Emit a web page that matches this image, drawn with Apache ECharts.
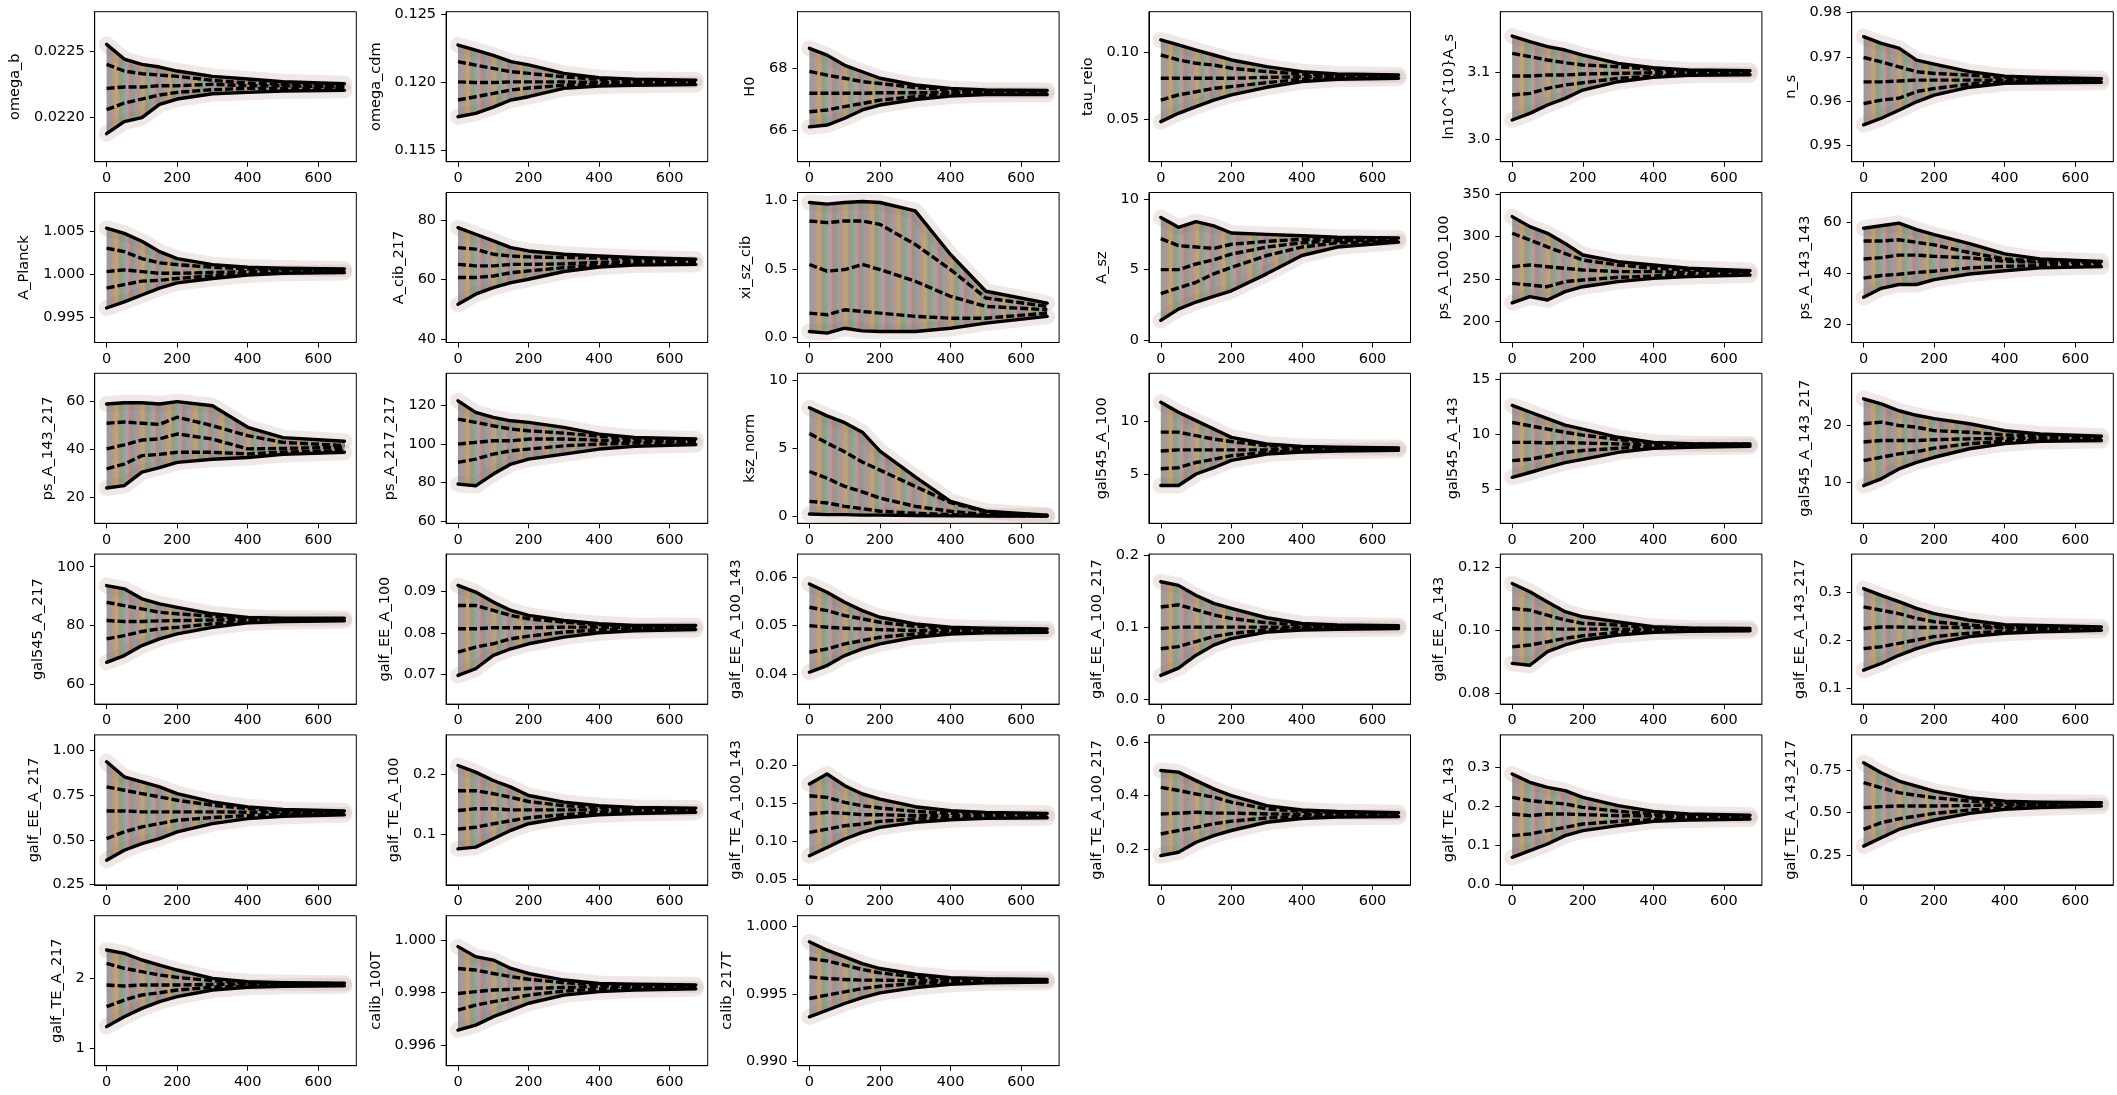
<!DOCTYPE html>
<html>
<head>
<meta charset="utf-8">
<script src="https://cdn.jsdelivr.net/npm/echarts@6/dist/echarts.min.js"></script>
<style>
  html, body { margin: 0; padding: 0; background: #ffffff; }
  #chart { width: 2117px; height: 1095px; }
</style>
</head>
<body>
<div id="chart"></div>
<script>
// MCMC chain trace summary: per-step quantiles of the walker ensemble for each parameter.

const PARAMS = [
  "omega_b", "omega_cdm", "H0", "tau_reio", "ln10^{10}A_s", "n_s",
  "A_Planck", "A_cib_217", "xi_sz_cib", "A_sz", "ps_A_100_100", "ps_A_143_143",
  "ps_A_143_217", "ps_A_217_217", "ksz_norm", "gal545_A_100", "gal545_A_143", "gal545_A_143_217",
  "gal545_A_217", "galf_EE_A_100", "galf_EE_A_100_143", "galf_EE_A_100_217", "galf_EE_A_143", "galf_EE_A_143_217",
  "galf_EE_A_217", "galf_TE_A_100", "galf_TE_A_100_143", "galf_TE_A_100_217", "galf_TE_A_143", "galf_TE_A_143_217",
  "galf_TE_A_217", "calib_100T", "calib_217T"
];

// chain steps at which the quantiles are listed
const STEPS = [0, 50, 100, 150, 200, 300, 400, 500, 674];
const X_LIMITS = [-33.7, 707.7];
const X_TICKS = ["0", "200", "400", "600"];

const Y_LIMITS = [
  [0.02167, 0.022795], [0.11419, 0.12520], [64.97, 69.84], [0.0184, 0.1303], [2.9665, 3.1915], [0.94639, 0.98023],
  [0.99212, 1.00942], [38.9, 89.2], [-0.036, 1.056], [-0.17, 10.47], [175.3, 352], [12.8, 71.5],
  [9.3, 71.8], [58.8, 136.8], [-0.52, 10.54], [0.29, 14.62], [1.88, 15.52], [2.76, 29.2],
  [53.3, 104.3], [0.06288, 0.09888], [0.03392, 0.06464], [-0.0069, 0.2014], [0.07663, 0.1240], [0.0674, 0.3799],
  [0.248, 1.0877], [0.015, 0.265], [0.0421, 0.2406], [0.065, 0.6275], [-0.001, 0.3827], [0.0721, 0.9615],
  [0.752, 2.895], [0.995228, 1.000924], [0.9897, 1.000815]
];

const Y_TICKS = [
  ["0.0220", "0.0225"], ["0.115", "0.120", "0.125"], ["66", "68"], ["0.05", "0.10"], ["3.0", "3.1"], ["0.95", "0.96", "0.97", "0.98"],
  ["0.995", "1.000", "1.005"], ["40", "60", "80"], ["0.0", "0.5", "1.0"], ["0", "5", "10"], ["200", "250", "300", "350"], ["20", "40", "60"],
  ["20", "40", "60"], ["60", "80", "100", "120"], ["0", "5", "10"], ["5", "10"], ["5", "10", "15"], ["10", "20"],
  ["60", "80", "100"], ["0.07", "0.08", "0.09"], ["0.04", "0.05", "0.06"], ["0.0", "0.1", "0.2"], ["0.08", "0.10", "0.12"], ["0.1", "0.2", "0.3"],
  ["0.25", "0.50", "0.75", "1.00"], ["0.1", "0.2"], ["0.05", "0.10", "0.15", "0.20"], ["0.2", "0.4", "0.6"], ["0.0", "0.1", "0.2", "0.3"], ["0.25", "0.50", "0.75"],
  ["1", "2"], ["0.996", "0.998", "1.000"], ["0.990", "0.995", "1.000"]
];

// upper outer quantile (solid)
const Q_HI95 = [
  [0.02255, 0.02244, 0.02240, 0.02238, 0.02235, 0.02231, 0.02229, 0.02227, 0.022255],
  [0.12275, 0.12238, 0.12200, 0.12153, 0.12130, 0.12067, 0.12035, 0.12025, 0.12018],
  [68.65, 68.43, 68.10, 67.89, 67.68, 67.46, 67.35, 67.30, 67.28],
  [0.1092, 0.1055, 0.1017, 0.0980, 0.0943, 0.0893, 0.0856, 0.0838, 0.0831],
  [3.155, 3.1465, 3.139, 3.134, 3.1265, 3.114, 3.1075, 3.104, 3.103],
  [0.9746, 0.9731, 0.9720, 0.9693, 0.9684, 0.9667, 0.9657, 0.9654, 0.9651],
  [1.0053, 1.0047, 1.0038, 1.0026, 1.0018, 1.0011, 1.0008, 1.0007, 1.0006],
  [77.4, 75.2, 73.0, 70.7, 69.6, 68.5, 67.9, 67.4, 66.8],
  [0.983, 0.971, 0.983, 0.990, 0.983, 0.922, 0.605, 0.337, 0.251],
  [8.7, 8.0, 8.4, 8.1, 7.6, 7.5, 7.4, 7.3, 7.25],
  [323.6, 311.8, 303.9, 292.0, 278.4, 270.5, 266.6, 262.7, 260.0],
  [57.5, 58.5, 59.5, 57.0, 55.0, 51.5, 47.5, 45.5, 44.5],
  [59.0, 59.5, 59.5, 59.0, 60.0, 58.3, 49.3, 45.0, 43.5],
  [122.5, 116.5, 113.9, 112.1, 111.3, 108.7, 105.2, 103.5, 102.6],
  [8.0, 7.4, 6.9, 6.2, 4.8, 2.9, 1.1, 0.37, 0.07],
  [11.85, 10.9, 10.1, 9.3, 8.5, 7.87, 7.64, 7.55, 7.5],
  [12.6, 12.0, 11.4, 10.8, 10.45, 9.7, 9.24, 9.12, 9.1],
  [24.7, 23.8, 22.6, 21.8, 21.2, 20.3, 19.1, 18.5, 18.1],
  [93.6, 92.5, 89.1, 87.4, 86.2, 84.0, 82.8, 82.5, 82.5],
  [0.09136, 0.08976, 0.08736, 0.08536, 0.08416, 0.08296, 0.08216, 0.08176, 0.08176],
  [0.05853, 0.05683, 0.05478, 0.05307, 0.05171, 0.05034, 0.04966, 0.04945, 0.04932],
  [0.163, 0.158, 0.144, 0.133, 0.126, 0.113, 0.105, 0.103, 0.102],
  [0.1147, 0.1121, 0.1089, 0.1058, 0.1042, 0.1026, 0.1011, 0.1007, 0.1005],
  [0.308, 0.294, 0.281, 0.267, 0.256, 0.242, 0.233, 0.231, 0.228],
  [0.937, 0.853, 0.825, 0.797, 0.759, 0.713, 0.685, 0.670, 0.662],
  [0.214, 0.203, 0.189, 0.178, 0.164, 0.153, 0.147, 0.144, 0.143],
  [0.1756, 0.1888, 0.1734, 0.1624, 0.1557, 0.1456, 0.1403, 0.1381, 0.1368],
  [0.494, 0.488, 0.456, 0.425, 0.400, 0.3625, 0.346, 0.340, 0.336],
  [0.2827, 0.2614, 0.2486, 0.2400, 0.2230, 0.2017, 0.1872, 0.1804, 0.1770],
  [0.796, 0.737, 0.688, 0.658, 0.628, 0.589, 0.569, 0.563, 0.559],
  [2.405, 2.357, 2.262, 2.190, 2.119, 2.000, 1.952, 1.938, 1.929],
  [0.99975, 0.99937, 0.99924, 0.99892, 0.99873, 0.99848, 0.99835, 0.99832, 0.99829],
  [0.99888, 0.99826, 0.99777, 0.99727, 0.99690, 0.99648, 0.99623, 0.99614, 0.99609]
];

// upper inner quantile (dashed)
const Q_HI68 = [
  [0.02240, 0.02235, 0.02233, 0.02232, 0.02231, 0.02228, 0.02226, 0.02225, 0.022242],
  [0.12153, 0.12128, 0.12104, 0.12080, 0.12067, 0.12042, 0.12022, 0.12015, 0.12010],
  [67.90, 67.78, 67.68, 67.57, 67.51, 67.38, 67.30, 67.26, 67.24],
  [0.0980, 0.0943, 0.0918, 0.0905, 0.0881, 0.0856, 0.0838, 0.0828, 0.0823],
  [3.129, 3.124, 3.119, 3.115, 3.1115, 3.109, 3.105, 3.1025, 3.1015],
  [0.9699, 0.9689, 0.9678, 0.9667, 0.9663, 0.9659, 0.9654, 0.9651, 0.9650],
  [1.0030, 1.0026, 1.0018, 1.0013, 1.0011, 1.0008, 1.0006, 1.0006, 1.0005],
  [70.7, 70.2, 68.5, 67.9, 67.6, 67.4, 67.2, 66.8, 66.5],
  [0.849, 0.837, 0.849, 0.849, 0.824, 0.678, 0.495, 0.288, 0.227],
  [7.2, 6.7, 6.6, 6.5, 6.8, 7.0, 7.15, 7.15, 7.15],
  [304.0, 296.0, 288.0, 280.0, 272.5, 266.6, 262.7, 260.7, 258.8],
  [52.5, 52.5, 53.0, 52.0, 51.0, 48.0, 45.5, 44.5, 44.0],
  [51.0, 51.5, 51.0, 50.5, 53.5, 50.0, 45.8, 43.0, 41.7],
  [113.0, 111.3, 109.5, 107.8, 106.9, 105.7, 104.0, 102.9, 102.3],
  [6.1, 5.4, 4.75, 4.0, 3.4, 2.2, 1.0, 0.33, 0.05],
  [9.0, 9.0, 8.66, 8.34, 8.1, 7.7, 7.55, 7.48, 7.45],
  [11.05, 10.75, 10.45, 10.15, 9.9, 9.5, 9.18, 9.1, 9.06],
  [20.3, 20.6, 20.0, 19.7, 19.1, 18.8, 18.35, 18.1, 17.9],
  [87.9, 86.8, 85.7, 84.5, 84.0, 83.2, 82.5, 82.3, 82.3],
  [0.08656, 0.08656, 0.08536, 0.08416, 0.08336, 0.08256, 0.08192, 0.0816, 0.08152],
  [0.05375, 0.05307, 0.05205, 0.05137, 0.05068, 0.04986, 0.04945, 0.04932, 0.04918],
  [0.128, 0.131, 0.124, 0.117, 0.112, 0.106, 0.103, 0.102, 0.101],
  [0.1068, 0.1063, 0.1047, 0.1032, 0.1021, 0.1016, 0.1007, 0.1005, 0.1004],
  [0.270, 0.263, 0.256, 0.246, 0.239, 0.232, 0.228, 0.227, 0.226],
  [0.797, 0.778, 0.759, 0.741, 0.722, 0.694, 0.675, 0.662, 0.657],
  [0.172, 0.172, 0.167, 0.161, 0.154, 0.147, 0.144, 0.142, 0.142],
  [0.1601, 0.1579, 0.1513, 0.1469, 0.1438, 0.1394, 0.1368, 0.1359, 0.1350],
  [0.431, 0.419, 0.406, 0.394, 0.375, 0.350, 0.341, 0.336, 0.334],
  [0.2230, 0.2145, 0.2102, 0.2060, 0.1974, 0.1872, 0.1804, 0.1770, 0.1753],
  [0.678, 0.648, 0.619, 0.603, 0.589, 0.569, 0.559, 0.555, 0.553],
  [2.214, 2.143, 2.095, 2.048, 2.014, 1.967, 1.938, 1.929, 1.924],
  [0.99892, 0.99886, 0.99873, 0.99861, 0.99851, 0.99838, 0.99830, 0.99828, 0.99827],
  [0.99764, 0.99747, 0.99715, 0.99683, 0.99658, 0.99628, 0.99614, 0.99609, 0.99604]
];

// median (dashed)
const Q_MED = [
  [0.02222, 0.02223, 0.02223, 0.02224, 0.02224, 0.02225, 0.02224, 0.02224, 0.02223],
  [0.12005, 0.12000, 0.12000, 0.12005, 0.12005, 0.12005, 0.12000, 0.12000, 0.12000],
  [67.19, 67.19, 67.19, 67.19, 67.21, 67.21, 67.21, 67.22, 67.21],
  [0.0806, 0.0806, 0.0806, 0.0806, 0.0806, 0.0813, 0.0818, 0.0818, 0.0818],
  [3.095, 3.095, 3.0965, 3.0965, 3.098, 3.099, 3.100, 3.100, 3.100],
  [0.9644, 0.9644, 0.9646, 0.9648, 0.9648, 0.9648, 0.9648, 0.9648, 0.9647],
  [1.0003, 1.0005, 1.0003, 1.0001, 1.0001, 1.0002, 1.0003, 1.0004, 1.0004],
  [65.1, 64.6, 64.6, 65.1, 65.1, 65.3, 65.8, 66.0, 66.0],
  [0.532, 0.483, 0.495, 0.532, 0.495, 0.410, 0.300, 0.227, 0.202],
  [5.0, 5.0, 5.4, 5.7, 6.1, 6.6, 6.9, 7.05, 7.1],
  [264.6, 266.6, 264.6, 262.7, 260.7, 258.8, 258.8, 257.6, 257.6],
  [45.5, 46.0, 47.0, 47.0, 46.5, 45.9, 44.6, 44.2, 43.8],
  [40.3, 42.0, 44.0, 44.5, 46.5, 44.4, 40.3, 40.5, 41.0],
  [100.0, 100.9, 101.7, 101.7, 102.6, 102.6, 102.0, 101.7, 101.4],
  [3.3, 2.8, 2.2, 1.8, 1.34, 0.73, 0.37, 0.12, 0.03],
  [7.2, 7.3, 7.3, 7.3, 7.3, 7.3, 7.4, 7.4, 7.4],
  [9.24, 9.24, 9.18, 9.24, 9.18, 9.1, 9.0, 9.0, 9.0],
  [17.1, 17.35, 17.35, 17.35, 17.5, 17.65, 17.75, 17.75, 17.75],
  [81.7, 81.4, 81.4, 81.6, 81.7, 81.9, 82.0, 82.0, 82.0],
  [0.08096, 0.08096, 0.0812, 0.0812, 0.0812, 0.08136, 0.08136, 0.08128, 0.08128],
  [0.05000, 0.04966, 0.04945, 0.04932, 0.04918, 0.04898, 0.04898, 0.04898, 0.04898],
  [0.098, 0.100, 0.100, 0.100, 0.100, 0.100, 0.100, 0.100, 0.100],
  [0.1005, 0.1003, 0.1005, 0.1003, 0.1003, 0.1003, 0.1002, 0.1002, 0.1002],
  [0.225, 0.228, 0.228, 0.227, 0.227, 0.227, 0.226, 0.225, 0.225],
  [0.662, 0.662, 0.657, 0.657, 0.657, 0.657, 0.655, 0.653, 0.651],
  [0.139, 0.142, 0.142, 0.140, 0.140, 0.140, 0.140, 0.139, 0.139],
  [0.1359, 0.1381, 0.1368, 0.1350, 0.1350, 0.1337, 0.1337, 0.1332, 0.1332],
  [0.331, 0.334, 0.3375, 0.334, 0.334, 0.331, 0.330, 0.329, 0.329],
  [0.1804, 0.1761, 0.1804, 0.1804, 0.1787, 0.1761, 0.1753, 0.1736, 0.1719],
  [0.530, 0.536, 0.540, 0.540, 0.540, 0.543, 0.547, 0.547, 0.549],
  [1.905, 1.890, 1.905, 1.905, 1.905, 1.914, 1.919, 1.919, 1.919],
  [0.99797, 0.99804, 0.99810, 0.99813, 0.99816, 0.99820, 0.99823, 0.99823, 0.99823],
  [0.99628, 0.99616, 0.99609, 0.99604, 0.99604, 0.99599, 0.99599, 0.99599, 0.99599]
];

// lower inner quantile (dashed)
const Q_LO68 = [
  [0.02206, 0.02211, 0.02214, 0.02217, 0.02219, 0.02221, 0.02222, 0.02222, 0.02222],
  [0.11872, 0.11896, 0.11920, 0.11945, 0.11960, 0.11980, 0.11988, 0.11990, 0.11992],
  [66.59, 66.65, 66.76, 66.86, 66.97, 67.08, 67.16, 67.19, 67.18],
  [0.0644, 0.0682, 0.0706, 0.0731, 0.0744, 0.0774, 0.0799, 0.0808, 0.0813],
  [3.0665, 3.069, 3.0765, 3.0815, 3.085, 3.0915, 3.095, 3.098, 3.0985],
  [0.9595, 0.9603, 0.9607, 0.9622, 0.9629, 0.9639, 0.9644, 0.9645, 0.9644],
  [0.9984, 0.9988, 0.9992, 0.9993, 0.9995, 0.9998, 1.0001, 1.0002, 1.0003],
  [60.7, 60.7, 61.2, 62.3, 62.9, 64.0, 64.9, 65.4, 65.6],
  [0.178, 0.166, 0.202, 0.190, 0.178, 0.154, 0.141, 0.141, 0.178],
  [3.3, 3.7, 4.1, 4.7, 5.15, 6.0, 6.6, 6.9, 7.0],
  [245.0, 243.0, 241.0, 247.0, 249.0, 252.0, 253.6, 254.8, 256.0],
  [38.0, 39.0, 39.5, 40.2, 40.7, 42.0, 42.6, 42.9, 43.1],
  [32.0, 34.0, 37.5, 38.0, 38.9, 38.9, 38.2, 39.0, 39.6],
  [90.5, 92.2, 94.8, 96.5, 97.4, 99.1, 100.0, 100.5, 100.9],
  [1.1, 0.98, 0.73, 0.56, 0.37, 0.22, 0.12, 0.05, 0.02],
  [5.5, 5.6, 6.1, 6.4, 6.75, 7.07, 7.2, 7.28, 7.3],
  [7.58, 7.7, 8.0, 8.33, 8.5, 8.7, 8.88, 8.94, 8.94],
  [13.8, 14.4, 15.0, 15.4, 16.0, 16.8, 17.2, 17.4, 17.5],
  [75.5, 76.6, 78.0, 78.9, 79.4, 80.6, 81.4, 81.7, 81.8],
  [0.07536, 0.07656, 0.07736, 0.07856, 0.0792, 0.08016, 0.08072, 0.08096, 0.08104],
  [0.04454, 0.04522, 0.04625, 0.04693, 0.04761, 0.04829, 0.04863, 0.04877, 0.04877],
  [0.070, 0.073, 0.080, 0.087, 0.091, 0.096, 0.098, 0.099, 0.099],
  [0.0947, 0.0953, 0.0963, 0.0974, 0.0982, 0.0993, 0.0997, 0.0999, 0.1000],
  [0.183, 0.187, 0.194, 0.201, 0.208, 0.215, 0.219, 0.222, 0.223],
  [0.507, 0.545, 0.573, 0.591, 0.610, 0.625, 0.636, 0.642, 0.646],
  [0.108, 0.111, 0.117, 0.122, 0.127, 0.132, 0.136, 0.137, 0.137],
  [0.1116, 0.1160, 0.1204, 0.1226, 0.1262, 0.1293, 0.1306, 0.1315, 0.1319],
  [0.256, 0.269, 0.281, 0.294, 0.304, 0.316, 0.321, 0.324, 0.325],
  [0.1250, 0.1292, 0.1378, 0.1463, 0.1548, 0.1616, 0.1659, 0.1684, 0.1693],
  [0.401, 0.441, 0.464, 0.480, 0.496, 0.516, 0.530, 0.540, 0.543],
  [1.595, 1.690, 1.762, 1.795, 1.833, 1.871, 1.890, 1.900, 1.905],
  [0.99734, 0.99753, 0.99766, 0.99778, 0.99791, 0.99806, 0.99814, 0.99818, 0.99819],
  [0.99468, 0.99493, 0.99517, 0.99542, 0.99559, 0.99579, 0.99589, 0.99592, 0.99594]
];

// lower outer quantile (solid)
const Q_LO95 = [
  [0.02188, 0.02197, 0.02200, 0.02210, 0.02214, 0.02218, 0.02219, 0.02220, 0.022205],
  [0.11749, 0.11774, 0.11820, 0.11872, 0.11896, 0.11957, 0.11974, 0.11980, 0.11985],
  [66.10, 66.16, 66.38, 66.65, 66.81, 66.99, 67.10, 67.15, 67.15],
  [0.0483, 0.0545, 0.0595, 0.0644, 0.0682, 0.0739, 0.0781, 0.0799, 0.0806],
  [3.029, 3.039, 3.0515, 3.0615, 3.074, 3.0865, 3.093, 3.096, 3.097],
  [0.9547, 0.9562, 0.9580, 0.9599, 0.9614, 0.9632, 0.9641, 0.9642, 0.9643],
  [0.9961, 0.9968, 0.9976, 0.9984, 0.9990, 0.9995, 0.9999, 1.0001, 1.0002],
  [51.7, 55.1, 57.3, 59.0, 60.1, 62.7, 64.2, 64.9, 65.1],
  [0.044, 0.032, 0.068, 0.049, 0.044, 0.044, 0.068, 0.105, 0.154],
  [1.4, 2.2, 2.7, 3.1, 3.5, 4.7, 6.0, 6.6, 6.95],
  [222.0, 229.3, 225.4, 235.2, 241.0, 247.0, 250.9, 252.9, 254.8],
  [30.5, 34.0, 35.5, 35.5, 37.4, 39.6, 40.9, 42.0, 42.5],
  [24.0, 25.0, 30.6, 32.5, 34.7, 36.0, 36.7, 38.0, 38.9],
  [79.2, 78.3, 84.4, 89.6, 92.2, 94.8, 97.4, 98.8, 99.8],
  [0.17, 0.12, 0.12, 0.08, 0.08, 0.05, 0.03, 0.02, 0.01],
  [3.9, 3.9, 5.0, 5.6, 6.3, 6.9, 7.1, 7.2, 7.26],
  [6.06, 6.5, 6.97, 7.4, 7.7, 8.33, 8.7, 8.8, 8.88],
  [9.4, 10.6, 12.35, 13.5, 14.4, 15.9, 16.8, 17.2, 17.35],
  [67.5, 69.8, 73.2, 75.5, 77.2, 79.4, 80.9, 81.4, 81.6],
  [0.06976, 0.07136, 0.07456, 0.07616, 0.07736, 0.07896, 0.08, 0.08048, 0.0808],
  [0.04044, 0.04181, 0.04386, 0.04522, 0.04625, 0.04761, 0.04829, 0.0485, 0.04863],
  [0.033, 0.043, 0.061, 0.075, 0.084, 0.093, 0.096, 0.097, 0.098],
  [0.0895, 0.0889, 0.0932, 0.0953, 0.0968, 0.0984, 0.0993, 0.0996, 0.0998],
  [0.138, 0.152, 0.169, 0.183, 0.194, 0.208, 0.215, 0.218, 0.221],
  [0.386, 0.442, 0.479, 0.507, 0.545, 0.591, 0.619, 0.632, 0.640],
  [0.075, 0.078, 0.092, 0.106, 0.117, 0.127, 0.132, 0.134, 0.136],
  [0.0807, 0.0917, 0.1028, 0.1116, 0.1182, 0.1248, 0.1284, 0.1301, 0.1310],
  [0.175, 0.1875, 0.225, 0.250, 0.269, 0.300, 0.314, 0.319, 0.321],
  [0.0696, 0.0866, 0.1037, 0.1250, 0.1378, 0.1506, 0.1616, 0.1650, 0.1676],
  [0.302, 0.352, 0.401, 0.431, 0.457, 0.496, 0.520, 0.530, 0.540],
  [1.310, 1.452, 1.571, 1.667, 1.738, 1.833, 1.871, 1.886, 1.895],
  [0.99658, 0.99677, 0.99709, 0.99734, 0.99760, 0.99791, 0.99804, 0.99810, 0.99815],
  [0.99332, 0.99381, 0.99431, 0.99475, 0.99510, 0.99549, 0.99574, 0.99584, 0.99589]
];

// ---- layout and styling ----
const COLS = 6;
const PANEL = { left0: 94.7, dx: 351.4, top0: 11.7, dy: 180.8, width: 261.6, height: 150 };
const FONT = '"DejaVu Sans", "Liberation Sans", sans-serif';
const FONT_SIZE = 14.5;
const TAB10 = [
  [31, 119, 180], [255, 127, 14], [44, 160, 44], [214, 39, 40], [148, 103, 189],
  [140, 86, 75], [227, 119, 194], [127, 127, 127], [188, 189, 34], [23, 190, 207]
];

// walker cloud fill: tinted vertical streaks over a muted brown-grey base
function cloudFill(alpha) {
  const base = [132, 112, 92];
  const stops = [];
  const n = 90;
  for (let k = 0; k <= n; k++) {
    const c = TAB10[(k * 7) % 10];
    const r = Math.round(base[0] * 0.68 + c[0] * 0.32);
    const g = Math.round(base[1] * 0.68 + c[1] * 0.32);
    const b = Math.round(base[2] * 0.68 + c[2] * 0.32);
    stops.push({ offset: k / n, color: `rgba(${r},${g},${b},${alpha})` });
  }
  return new echarts.graphic.LinearGradient(0, 0, 1, 0, stops);
}

const measureCtx = document.createElement('canvas').getContext('2d');
measureCtx.font = `${FONT_SIZE}px ${FONT}`;

const chart = echarts.init(document.getElementById('chart'), null, { renderer: 'canvas' });

const grids = [], xAxes = [], yAxes = [], series = [];

PARAMS.forEach((name, i) => {
  const col = i % COLS, row = Math.floor(i / COLS);
  grids.push({
    left: PANEL.left0 + PANEL.dx * col,
    top: PANEL.top0 + PANEL.dy * row,
    width: PANEL.width,
    height: PANEL.height,
    show: true,
    borderColor: '#000',
    borderWidth: 1,
    backgroundColor: 'transparent',
    containLabel: false
  });

  const xTickVals = X_TICKS.map(Number);
  xAxes.push({
    gridIndex: i,
    type: 'value',
    min: X_LIMITS[0],
    max: X_LIMITS[1],
    axisLine: { show: true, onZero: false, lineStyle: { color: '#000', width: 1 } },
    axisTick: { show: true, length: 5, lineStyle: { color: '#000', width: 1 }, customValues: xTickVals },
    axisLabel: {
      customValues: xTickVals,
      margin: 9,
      fontSize: FONT_SIZE,
      fontFamily: FONT,
      color: '#000',
      formatter: v => String(Math.round(v))
    },
    splitLine: { show: false }
  });

  const labels = Y_TICKS[i];
  const yTickVals = labels.map(Number);
  const labelW = Math.max(...labels.map(s => measureCtx.measureText(s).width));
  yAxes.push({
    gridIndex: i,
    type: 'value',
    min: Y_LIMITS[i][0],
    max: Y_LIMITS[i][1],
    name: name,
    nameLocation: 'middle',
    nameGap: 10 + labelW + 11,
    nameTextStyle: { fontSize: FONT_SIZE, fontFamily: FONT, color: '#000' },
    axisLine: { show: true, onZero: false, lineStyle: { color: '#000', width: 1 } },
    axisTick: { show: true, length: 5, lineStyle: { color: '#000', width: 1 }, customValues: yTickVals },
    axisLabel: {
      customValues: yTickVals,
      margin: 10,
      fontSize: FONT_SIZE,
      fontFamily: FONT,
      color: '#000',
      formatter: v => {
        let best = labels[0], d = Infinity;
        labels.forEach(s => { const dd = Math.abs(Number(s) - v); if (dd < d) { d = dd; best = s; } });
        return best;
      }
    },
    splitLine: { show: false }
  });

  const pts = arr => STEPS.map((x, k) => [x, arr[i][k]]);
  const common = { xAxisIndex: i, yAxisIndex: i, type: 'line', symbol: 'none', silent: true, animation: false };

  // faint halo of the outer walkers
  [Q_HI95, Q_LO95].forEach(q => {
    series.push(Object.assign({}, common, {
      data: pts(q),
      lineStyle: { color: 'rgba(190,160,150,0.24)', width: 16, join: 'round', cap: 'round' },
      z: 1
    }));
  });

  // filled walker band between the outer quantiles, drawn as one polygon
  series.push({
    type: 'custom',
    xAxisIndex: i,
    yAxisIndex: i,
    silent: true,
    animation: false,
    clip: true,
    z: 2,
    data: [[0]],
    renderItem: (params, api) => {
      const upper = STEPS.map((x, k) => api.coord([x, Q_HI95[i][k]]));
      const lower = STEPS.map((x, k) => api.coord([x, Q_LO95[i][k]])).reverse();
      return {
        type: 'polygon',
        shape: { points: upper.concat(lower) },
        style: { fill: cloudFill(0.72), stroke: null }
      };
    }
  });

  // quantile traces
  const solid = { color: '#000', width: 3.4, type: 'solid', join: 'round', cap: 'round' };
  const dashed = { color: '#000', width: 3.4, type: [8, 3], join: 'round' };
  [[Q_HI95, solid], [Q_HI68, dashed], [Q_MED, dashed], [Q_LO68, dashed], [Q_LO95, solid]].forEach(([q, ls]) => {
    series.push(Object.assign({}, common, { data: pts(q), lineStyle: ls, z: 3 }));
  });
});

chart.setOption({
  animation: false,
  backgroundColor: '#ffffff',
  grid: grids,
  xAxis: xAxes,
  yAxis: yAxes,
  series: series
});
</script>
</body>
</html>
